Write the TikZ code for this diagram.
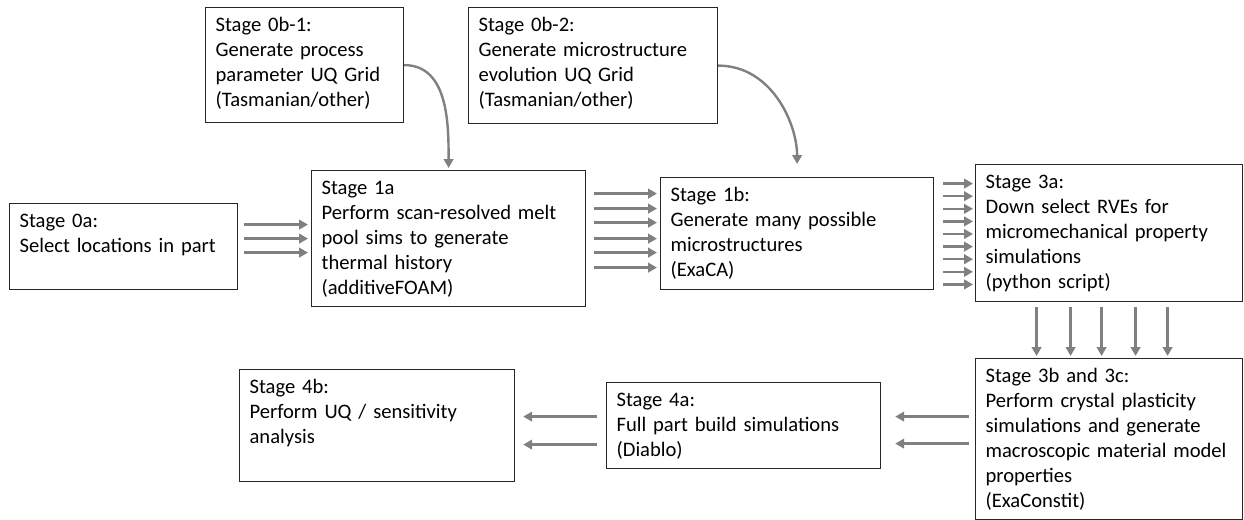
\documentclass[tikz,border=0pt]{standalone}
\usepackage{fontspec}
\setmainfont{Carlito}
\usetikzlibrary{calc,arrows.meta}

\tikzset{
  stagebox/.style={draw=black!85, line width=0.6pt, anchor=north west, align=left,
    inner xsep=5pt, inner ysep=0pt, text height=12pt,
    font=\fontsize{10.3}{12.5}\selectfont},
  flow/.style={draw=black!50, line width=1.2pt,
    -{Triangle[length=4.5pt,width=4.8pt]}},
}

\begin{document}
\begin{tikzpicture}[x=0.5pt, y=-0.5pt]
			% Рамка рисунка
			\useasboundingbox (0,0) rectangle (1244,520);
			
			% Верхний ряд: сетки UQ
			\node[stagebox, text width=89pt, text depth=45.5pt] (s0b1) at (205,7)
				{Stage 0b-1:\\Generate process\\parameter UQ Grid\\(Tasmanian/other)};
			\node[stagebox, text width=114.5pt, text depth=46pt] (s0b2) at (468,7)
				{Stage 0b-2:\\Generate microstructure\\evolution UQ Grid\\(Tasmanian/other)};
			
			% Средний ряд
			\node[stagebox, text width=104pt, text depth=31pt] (s0a) at (9,203)
				{Stage 0a:\\Select locations in part};
			\node[stagebox, text width=127pt, text depth=56pt] (s1a) at (311,170)
				{Stage 1a\\Perform scan-resolved melt\\pool sims to generate\\thermal history\\(additiveFOAM)};
			\node[stagebox, text width=126.5pt, text depth=44pt] (s1b) at (660,177)
				{Stage 1b:\\Generate many possible\\microstructures\\(ExaCA)};
			\node[stagebox, text width=123.5pt, text depth=56.5pt] (s3a) at (975,164)
				{Stage 3a:\\Down select RVEs for\\micromechanical property\\simulations\\(python script)};
			
			% Нижний ряд
			\node[stagebox, text width=123.5pt, text depth=68.5pt] (s3bc) at (975,358)
				{Stage 3b and 3c:\\Perform crystal plasticity\\simulations and generate\\macroscopic material model\\properties\\(ExaConstit)};
			\node[stagebox, text width=127pt, text depth=31pt] (s4a) at (606,382)
				{Stage 4a:\\Full part build simulations\\(Diablo)};
			\node[stagebox, text width=127.5pt, text depth=44pt] (s4b) at (239,369)
				{Stage 4b:\\Perform UQ / sensitivity\\analysis};
			
			% Изогнутые стрелки от сеток
			\draw[flow, shorten >=1pt] (s0b1.east) to[out=0, in=90] (s1a.north);
			\draw[flow, shorten >=6.5pt] (s0b2.east) to[out=0, in=90] (s1b.north);
			
			% Пучки стрелок
			\foreach \dy in {-22,-8,6}
				\draw[flow] ($(s0a.east)+(6,\dy)$) -- ($(s1a.west |- s0a.east)+(-3,\dy)$);
			\foreach \dy in {-45,-30,-16,0,14,29}
				\draw[flow] ($(s1a.east)+(8,\dy)$) -- ($(s1b.west |- s1a.east)+(-3,\dy)$);
			\foreach \i in {0,...,8}
				\draw[flow] ($(s1b.east)+(9,-50+12.6*\i)$) -- ($(s3a.west |- s1b.east)+(-2,-50+12.6*\i)$);
			\foreach \dx in {-72.5,-38.5,-7.5,26.5,58.5}
				\draw[flow] ($(s3a.south)+(\dx,5)$) -- ($(s3bc.north -| s3a.south)+(\dx,-2)$);
			\foreach \dy in {-22.5,4.5}
				\draw[flow] ($(s3bc.west)+(-6,\dy)$) -- ($(s4a.east |- s3bc.west)+(14,\dy)$);
			\foreach \dy in {-9,19}
				\draw[flow] ($(s4a.west)+(-9,\dy)$) -- ($(s4b.east |- s4a.west)+(8,\dy)$);
\end{tikzpicture}
\end{document}
